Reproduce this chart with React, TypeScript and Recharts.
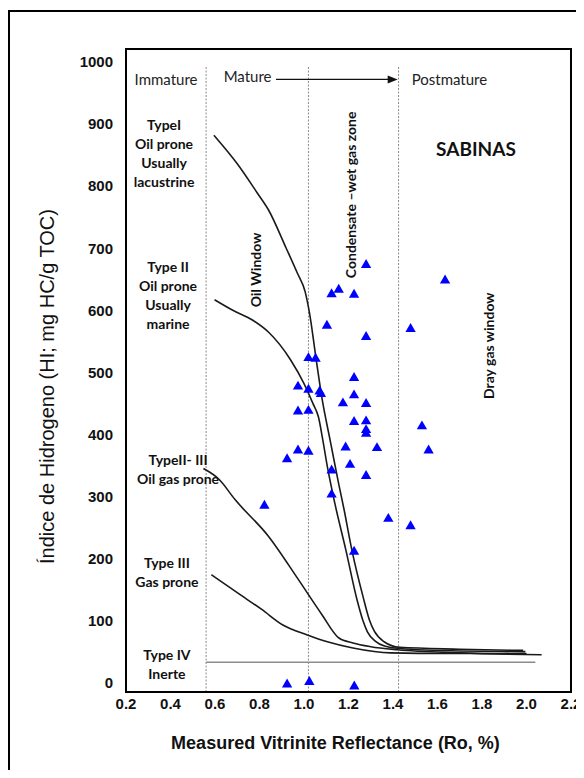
import {
  ComposedChart,
  Line,
  Scatter,
  XAxis,
  YAxis,
  ZAxis,
  ReferenceLine,
  ReferenceArea,
  ReferenceDot,
} from "recharts";

// samples (HI vs Ro)
const samples = [
  { x: 1.279, y: 673 }, { x: 1.634, y: 648 }, { x: 1.124, y: 626 },
  { x: 1.156, y: 633 }, { x: 1.225, y: 625 }, { x: 1.103, y: 575 },
  { x: 1.479, y: 570 }, { x: 1.279, y: 557 }, { x: 1.02, y: 523 },
  { x: 1.052, y: 522 }, { x: 1.225, y: 491 }, { x: 0.973, y: 477 },
  { x: 1.02, y: 472 }, { x: 1.07, y: 469 }, { x: 1.076, y: 465 },
  { x: 1.225, y: 463 }, { x: 1.175, y: 450 }, { x: 1.279, y: 449 },
  { x: 0.973, y: 437 }, { x: 1.02, y: 438 }, { x: 1.225, y: 420 },
  { x: 1.279, y: 421 }, { x: 1.279, y: 407 }, { x: 1.279, y: 401 },
  { x: 1.53, y: 413 }, { x: 1.187, y: 379 }, { x: 1.328, y: 378 },
  { x: 0.973, y: 374 }, { x: 1.02, y: 372 }, { x: 1.56, y: 374 },
  { x: 0.924, y: 360 }, { x: 1.207, y: 351 }, { x: 1.124, y: 342 },
  { x: 1.279, y: 333 }, { x: 1.124, y: 303 }, { x: 0.822, y: 285 },
  { x: 1.379, y: 264 }, { x: 1.479, y: 252 }, { x: 1.225, y: 211 },
  { x: 0.924, y: -3 }, { x: 1.024, y: 1 }, { x: 1.226, y: -6 },
];

// kerogen type evolution curves
const typeI = [
  { x: 0.595, y: 882 }, { x: 0.7, y: 836 }, { x: 0.79, y: 789 },
  { x: 0.84, y: 762 }, { x: 0.92, y: 700 }, { x: 0.97, y: 660 },
  { x: 1.005, y: 630 }, { x: 1.025, y: 595 }, { x: 1.055, y: 520 },
  { x: 1.08, y: 460 }, { x: 1.12, y: 386 }, { x: 1.155, y: 322 },
  { x: 1.18, y: 279 }, { x: 1.215, y: 214 }, { x: 1.265, y: 139 },
  { x: 1.294, y: 101 }, { x: 1.316, y: 83 }, { x: 1.36, y: 66 },
  { x: 1.43, y: 57 }, { x: 1.7, y: 54 }, { x: 1.985, y: 52 },
];
const typeII = [
  { x: 0.598, y: 617 }, { x: 0.68, y: 600 }, { x: 0.77, y: 584 },
  { x: 0.84, y: 565 }, { x: 0.94, y: 520 }, { x: 1.0, y: 482 },
  { x: 1.04, y: 450 }, { x: 1.065, y: 428 }, { x: 1.085, y: 390 },
  { x: 1.105, y: 348 }, { x: 1.138, y: 290 }, { x: 1.188, y: 214 },
  { x: 1.238, y: 134 }, { x: 1.264, y: 101 }, { x: 1.285, y: 82 },
  { x: 1.32, y: 67 }, { x: 1.362, y: 59 }, { x: 1.43, y: 55 },
  { x: 1.7, y: 51 }, { x: 1.995, y: 50 },
];
const typeIIIII = [
  { x: 0.548, y: 345 }, { x: 0.62, y: 327 }, { x: 0.69, y: 295 },
  { x: 0.84, y: 236 }, { x: 0.975, y: 166 }, { x: 1.08, y: 110 },
  { x: 1.157, y: 72 }, { x: 1.22, y: 64 }, { x: 1.3, y: 58 },
  { x: 1.42, y: 53 }, { x: 1.7, y: 48 }, { x: 2.068, y: 45 },
];
const typeIII = [
  { x: 0.584, y: 174 }, { x: 0.7, y: 145 }, { x: 0.81, y: 118 },
  { x: 0.905, y: 93 }, { x: 1.015, y: 77 }, { x: 1.105, y: 66 },
  { x: 1.22, y: 56 }, { x: 1.39, y: 48 }, { x: 1.64, y: 47 },
  { x: 2.0, y: 47 },
];

const curves = [typeI, typeII, typeIIIII, typeIII];

const xTicks = [0.2, 0.4, 0.6, 0.8, 1.0, 1.2, 1.4, 1.6, 1.8, 2.0, 2.2];
const yTicks = [0, 100, 200, 300, 400, 500, 600, 700, 800, 900, 1000];

// maturity zone boundaries
const zoneBounds = [0.56, 1.02, 1.425];
const typeIVLevel = 33;

const zoneNotes = [
  { x: 0.38, y: 972, lines: ["Immature"], anchor: "middle" },
  { x: 0.639, y: 977, lines: ["Mature"], anchor: "start" },
  { x: 1.484, y: 972, lines: ["Postmature"], anchor: "start" },
];

const typeNotes = [
  { x: 0.371, y: 899, lines: ["TypeI", "Oil prone", "Usually", "lacustrine"] },
  { x: 0.389, y: 670, lines: ["Type II", "Oil prone", "Usually", "marine"] },
  { x: 0.434, y: 359, lines: ["TypeII- III", "Oil gas prone"] },
  { x: 0.384, y: 193, lines: ["Type III", "Gas prone"] },
  { x: 0.384, y: 45, lines: ["Type IV", "Inerte"] },
];

const windowNotes = [
  { x: 0.784, y: 665, text: "Oil Window" },
  { x: 1.211, y: 786, text: "Condensate \u2013wet gas zone" },
  { x: 1.831, y: 543, text: "Dray gas window" },
];

const ANNOT_FONT = "Lato, 'Noto Sans', sans-serif";
const AXIS_FONT = "'Liberation Sans', Arial, sans-serif";

function Note(props: any) {
  const { viewBox, lines, size = 14, weight = 700, anchor = "middle", color = "#111", gap = 19 } = props;
  if (!viewBox) return null;
  const cx = viewBox.x + viewBox.width / 2;
  const cy = viewBox.y + viewBox.height / 2;
  return (
    <g>
      {lines.map((line: string, i: number) => (
        <text
          key={i}
          x={cx}
          y={cy + i * gap}
          textAnchor={anchor}
          dominantBaseline="central"
          fontFamily={ANNOT_FONT}
          fontSize={size}
          fontWeight={weight}
          fill={color}
        >
          {line}
        </text>
      ))}
    </g>
  );
}

function VNote(props: any) {
  const { viewBox, text } = props;
  if (!viewBox) return null;
  const cx = viewBox.x + viewBox.width / 2;
  const cy = viewBox.y + viewBox.height / 2;
  return (
    <text
      x={cx}
      y={cy}
      transform={`rotate(-90 ${cx} ${cy})`}
      textAnchor="middle"
      dominantBaseline="central"
      fontFamily={ANNOT_FONT}
      fontSize={14}
      fontWeight={700}
      fill="#111"
    >
      {text}
    </text>
  );
}

function Arrow(props: any) {
  const { x1, y1, x2, y2 } = props;
  return (
    <g>
      <line x1={x1} y1={y1} x2={x2 - 8} y2={y2} stroke="#111" strokeWidth={1.3} />
      <polygon points={`${x2},${y2} ${x2 - 10},${y2 - 4} ${x2 - 10},${y2 + 4}`} fill="#111" />
    </g>
  );
}

function YTitle(props: any) {
  const { viewBox } = props;
  if (!viewBox) return null;
  const cx = viewBox.x - 29;
  const cy = viewBox.y + viewBox.height / 2 + 16;
  return (
    <text
      x={cx}
      y={cy}
      transform={`rotate(-90 ${cx} ${cy})`}
      textAnchor="middle"
      dominantBaseline="central"
      fontFamily={AXIS_FONT}
      fontSize={20}
      fill="#111"
    >
      {"\u00cdndice de Hidrogeno (HI; mg HC/g TOC)"}
    </text>
  );
}

function XTitle(props: any) {
  const { viewBox } = props;
  if (!viewBox) return null;
  return (
    <text
      x={viewBox.x + viewBox.width / 2 - 13}
      y={viewBox.y + 51}
      textAnchor="middle"
      dominantBaseline="central"
      fontFamily={AXIS_FONT}
      fontSize={18}
      fontWeight={700}
      fill="#111"
    >
      Measured Vitrinite Reflectance (Ro, %)
    </text>
  );
}

const tickStyle = { fontFamily: AXIS_FONT, fontSize: 15, fontWeight: 700, fill: "#111" };

export default function App() {
  return (
    <div style={{ position: "relative", width: 576, height: 762, overflow: "hidden", background: "#fff" }}>
      <div
        style={{
          position: "absolute",
          left: 0,
          top: 2,
          width: 700,
          height: 900,
          border: "2px solid #000",
          boxSizing: "border-box",
        }}
      />
      <div style={{ position: "absolute", left: 0, top: 0 }}>
        <ComposedChart width={576} height={770} margin={{ top: 41, right: 13, bottom: 56, left: 68 }}>
          <XAxis
            type="number"
            dataKey="x"
            domain={[0.2, 2.2]}
            ticks={xTicks}
            allowDataOverflow
            tickFormatter={(v: number) => v.toFixed(1)}
            tick={tickStyle}
            tickLine={false}
            tickSize={6}
            tickMargin={0}
            height={30}
            axisLine={{ stroke: "#000", strokeWidth: 2 }}
            label={<XTitle />}
          />
          <YAxis
            type="number"
            dataKey="y"
            domain={[-15, 1021]}
            ticks={yTicks}
            allowDataOverflow
            tick={tickStyle}
            tickLine={false}
            tickSize={6}
            tickMargin={7}
            width={50}
            axisLine={{ stroke: "#000", strokeWidth: 2 }}
            label={<YTitle />}
          />
          <ZAxis type="number" range={[46, 46]} />

          <ReferenceArea x1={0.2} x2={2.2} y1={-15} y2={1021} fill="none" stroke="#000" strokeWidth={2} />

          {zoneBounds.map((b) => (
            <ReferenceLine
              key={b}
              segment={[{ x: b, y: -15 }, { x: b, y: 992 }]}
              stroke="#8a8a8a"
              strokeWidth={1}
              strokeDasharray="2 1.5"
            />
          ))}
          <ReferenceLine
            segment={[{ x: zoneBounds[0], y: typeIVLevel }, { x: 2.04, y: typeIVLevel }]}
            stroke="#8c8c8c"
            strokeWidth={1.5}
          />
          <ReferenceLine
            segment={[{ x: 0.874, y: 972 }, { x: 1.421, y: 972 }]}
            shape={(p: any) => <Arrow {...p} />}
          />

          {curves.map((c, i) => (
            <Line
              key={i}
              data={c}
              dataKey="y"
              type="monotone"
              stroke="#1a1a1a"
              strokeWidth={1.6}
              dot={false}
              activeDot={false}
              isAnimationActive={false}
            />
          ))}

          <Scatter data={samples} dataKey="y" shape="triangle" fill="#0000ff" isAnimationActive={false} />

          {zoneNotes.map((n, i) => (
            <ReferenceDot
              key={`z${i}`}
              x={n.x}
              y={n.y}
              r={0}
              fill="none"
              stroke="none"
              label={<Note lines={n.lines} size={15} weight={400} anchor={n.anchor} color="#222" />}
            />
          ))}
          {typeNotes.map((n, i) => (
            <ReferenceDot
              key={`t${i}`}
              x={n.x}
              y={n.y}
              r={0}
              fill="none"
              stroke="none"
              label={<Note lines={n.lines} />}
            />
          ))}
          {windowNotes.map((n, i) => (
            <ReferenceDot
              key={`w${i}`}
              x={n.x}
              y={n.y}
              r={0}
              fill="none"
              stroke="none"
              label={<VNote text={n.text} />}
            />
          ))}
          <ReferenceDot
            x={1.773}
            y={860}
            r={0}
            fill="none"
            stroke="none"
            label={<Note lines={["SABINAS"]} size={19} />}
          />
        </ComposedChart>
      </div>
    </div>
  );
}
